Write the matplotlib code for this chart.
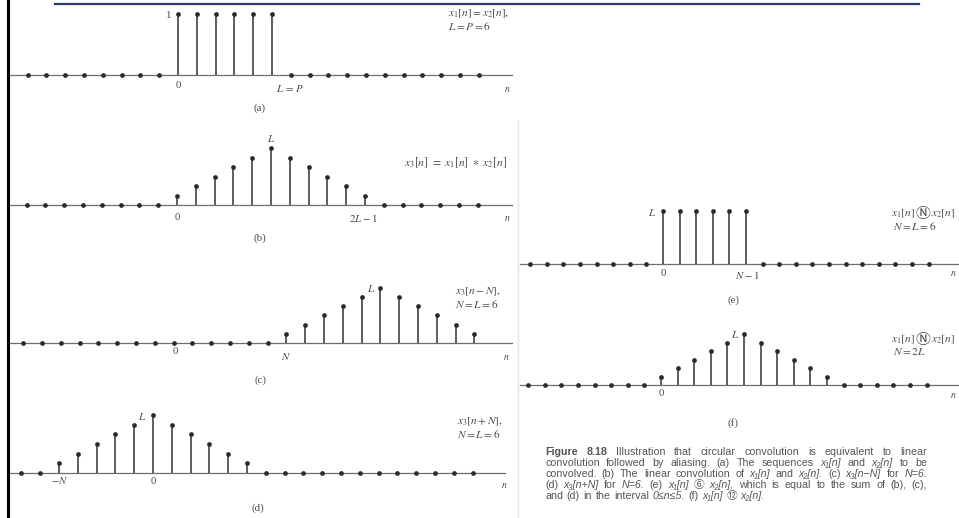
import matplotlib
matplotlib.use('Agg')
import matplotlib.pyplot as plt
import numpy as np

W, H = 959, 518

# sequences (n ranges + sample values)
n_a = np.arange(-8, 17)
x_a = [0, 0, 0, 0, 0, 0, 0, 0, 1, 1, 1, 1, 1, 1, 0, 0, 0, 0, 0, 0, 0, 0, 0, 0, 0]
n_b = np.arange(-8, 17)
x_b = [0, 0, 0, 0, 0, 0, 0, 0, 1, 2, 3, 4, 5, 6, 5, 4, 3, 2, 1, 0, 0, 0, 0, 0, 0]
n_c = np.arange(-8, 17)
x_c = [0, 0, 0, 0, 0, 0, 0, 0, 0, 0, 0, 0, 0, 0, 1, 2, 3, 4, 5, 6, 5, 4, 3, 2, 1]
n_d = np.arange(-7, 18)
x_d = [0, 0, 1, 2, 3, 4, 5, 6, 5, 4, 3, 2, 1, 0, 0, 0, 0, 0, 0, 0, 0, 0, 0, 0, 0]
n_e = np.arange(-8, 17)
x_e = [0, 0, 0, 0, 0, 0, 0, 0, 6, 6, 6, 6, 6, 6, 0, 0, 0, 0, 0, 0, 0, 0, 0, 0, 0]
n_f = np.arange(-8, 17)
x_f = [0, 0, 0, 0, 0, 0, 0, 0, 1, 2, 3, 4, 5, 6, 5, 4, 3, 2, 1, 0, 0, 0, 0, 0, 0]

caption = [
    "Figure 8.18  Illustration that circular convolution is equivalent to linear",
    "convolution followed by aliasing. (a) The sequences x₁[n] and x₂[n] to be",
    "convolved. (b) The linear convolution of x₁[n] and x₂[n]. (c) x₃[n−N] for N=6.",
    "(d) x₃[n+N] for N=6. (e) x₁[n] ⑥ x₂[n], which is equal to the sum of (b), (c),",
    "and (d) in the interval 0≤n≤5. (f) x₁[n] ⑫ x₂[n].",
]

fig = plt.figure(figsize=(W / 100, H / 100), dpi=100)
fig.patch.set_facecolor('white')

SERIF = ['Liberation Serif', 'DejaVu Serif', 'Noto Sans CJK JP', 'DejaVu Sans']
SANS = ['Liberation Sans Narrow', 'Liberation Sans', 'Noto Sans CJK JP', 'DejaVu Sans']
TXT = '#4a4a4a'
renderer = fig.canvas.get_renderer()


def ftext(px, py, s, size=7.8, ha='left', va='center', **kw):
    kw.setdefault('family', SERIF)
    kw.setdefault('math_fontfamily', 'stix')
    kw.setdefault('color', TXT)
    return fig.text(px / W, 1 - py / H, s, fontsize=size, ha=ha, va=va, **kw)


def circ_label(px, py, size):
    # x1[n] (N) x2[n] built from three pieces so the circled N can be larger
    x = px
    for s, kw in [(r'$x_1[n]$', {}),
                  ('Ⓝ', {'family': ['Noto Sans CJK JP', 'DejaVu Sans'], 'size': size + 2.5}),
                  (r'$x_2[n]$', {})]:
        t = ftext(x, py, s, size=kw.pop('size', size), **kw)
        x += t.get_window_extent(renderer).width + 0.5


def panel(n, x, x0, dx, yb, scale, line_from, line_to):
    # full-figure axes whose data coords land n/values on the scanned pixel grid
    ax = fig.add_axes([0, 0, 1, 1])
    ax.set_xlim((0 - x0) / dx, (W - x0) / dx)
    ax.set_ylim((yb - H) / scale, yb / scale)
    ax.axis('off')
    ax.patch.set_alpha(0)
    ax.axhline(0, xmin=line_from / W, xmax=line_to / W, color='#6e6e6e', lw=0.9)
    ax.vlines(n, 0, x, color='#333333', lw=1.1)
    ax.plot(n, x, 'o', color='#2a2a2a', ms=3.4, mew=0)
    return ax


panel(n_a, x_a, 178, 18.8, 75, 61, 10, 512)
panel(n_b, x_b, 177, 18.8, 205, 9.5, 10, 512)
panel(n_c, x_c, 173.5, 18.8, 343, 9.2, 10, 512)
panel(n_d, x_d, 153, 18.8, 473, 9.7, 10, 505)
panel(n_e, x_e, 663, 16.6, 264, 8.85, 520, 959)
panel(n_f, x_f, 661, 16.6, 385, 8.5, 520, 959)

RS = 8.2  # size of the right-hand formula labels
# (a)
ftext(168, 15, '1', ha='center')
ftext(178, 86, '0', ha='center')
ftext(290, 88, r'$L\,=\,P$', ha='center')
ftext(507, 90, r'$n$', ha='center', size=7)
ftext(448, 20, '$x_1[n] = x_2[n],$\n$L = P = 6$', size=RS, linespacing=0.95)
ftext(260, 108, '(a)', ha='center')
# (b)
ftext(271, 138, r'$L$', ha='center')
ftext(177, 218, '0', ha='center')
ftext(363, 218, r'$2L-1$', ha='center')
ftext(507, 219, r'$n$', ha='center', size=7)
ftext(404, 163, r'$x_3[n]\ =\ x_1[n]\ \ast\ x_2[n]$', size=8.4)
ftext(260, 238, '(b)', ha='center')
# (c)
ftext(371, 288, r'$L$', ha='center')
ftext(175, 352, '0', ha='center')
ftext(286, 357, r'$N$', ha='center')
ftext(506, 357, r'$n$', ha='center', size=7)
ftext(455, 298, '$x_3[n-N],$\n$N = L = 6$', size=RS, linespacing=0.95)
ftext(260, 380, '(c)', ha='center')
# (d)
ftext(142, 417, r'$L$', ha='center')
ftext(60, 481, r'$-N$', ha='center')
ftext(153, 481, '0', ha='center')
ftext(504, 485, r'$n$', ha='center', size=7)
ftext(457, 428, '$x_3[n+N],$\n$N = L = 6$', size=RS, linespacing=0.95)
ftext(258, 508, '(d)', ha='center')
# (e)
ftext(652, 212, r'$L$', ha='center')
ftext(663, 274, '0', ha='center')
ftext(747, 275, r'$N-1$', ha='center')
ftext(953, 274, r'$n$', ha='center', size=7)
circ_label(891, 214, RS)
ftext(893, 225.5, r'$N = L = 6$', size=RS)
ftext(733, 300, '(e)', ha='center')
# (f)
ftext(735, 335, r'$L$', ha='center')
ftext(661, 394, '0', ha='center')
ftext(953, 396, r'$n$', ha='center', size=7)
circ_label(891, 340, RS)
ftext(893, 351.5, r'$N = 2L$', size=RS)
ftext(733, 423, '(f)', ha='center')

# caption, justified between x=545 and x=927
left, right = 545, 927
for i, line in enumerate(caption):
    words = line.split()
    texts = []
    for j, w in enumerate(words):
        bold = (i == 0 and j < 2)
        italic = any(c in w for c in '[=≤')
        t = ftext(0, 452 + i * 11, w, size=7.7, family=SANS,
                  fontweight='bold' if bold else 'normal',
                  fontstyle='italic' if italic else 'normal', color='#555555')
        texts.append(t)
    widths = [t.get_window_extent(renderer).width for t in texts]
    if i < len(caption) - 1:
        gap = (right - left - sum(widths)) / (len(words) - 1)
    else:
        gap = 3.6
    x = left
    for t, w in zip(texts, widths):
        t.set_x(x / W)
        x += w + gap

# page decorations: black left rule, blue top rule, gutter shadow
fig.add_artist(plt.Line2D([8 / W, 8 / W], [0, 1], color='black', lw=2.2))
fig.add_artist(plt.Line2D([55 / W, 919 / W], [1 - 4 / H, 1 - 4 / H], color='#2b3a72', lw=1.6))
fig.add_artist(plt.Line2D([518 / W, 518 / W], [0, 1 - 120 / H], color='#e6e6e6', lw=1.0))

plt.savefig('out.png', dpi=100)
